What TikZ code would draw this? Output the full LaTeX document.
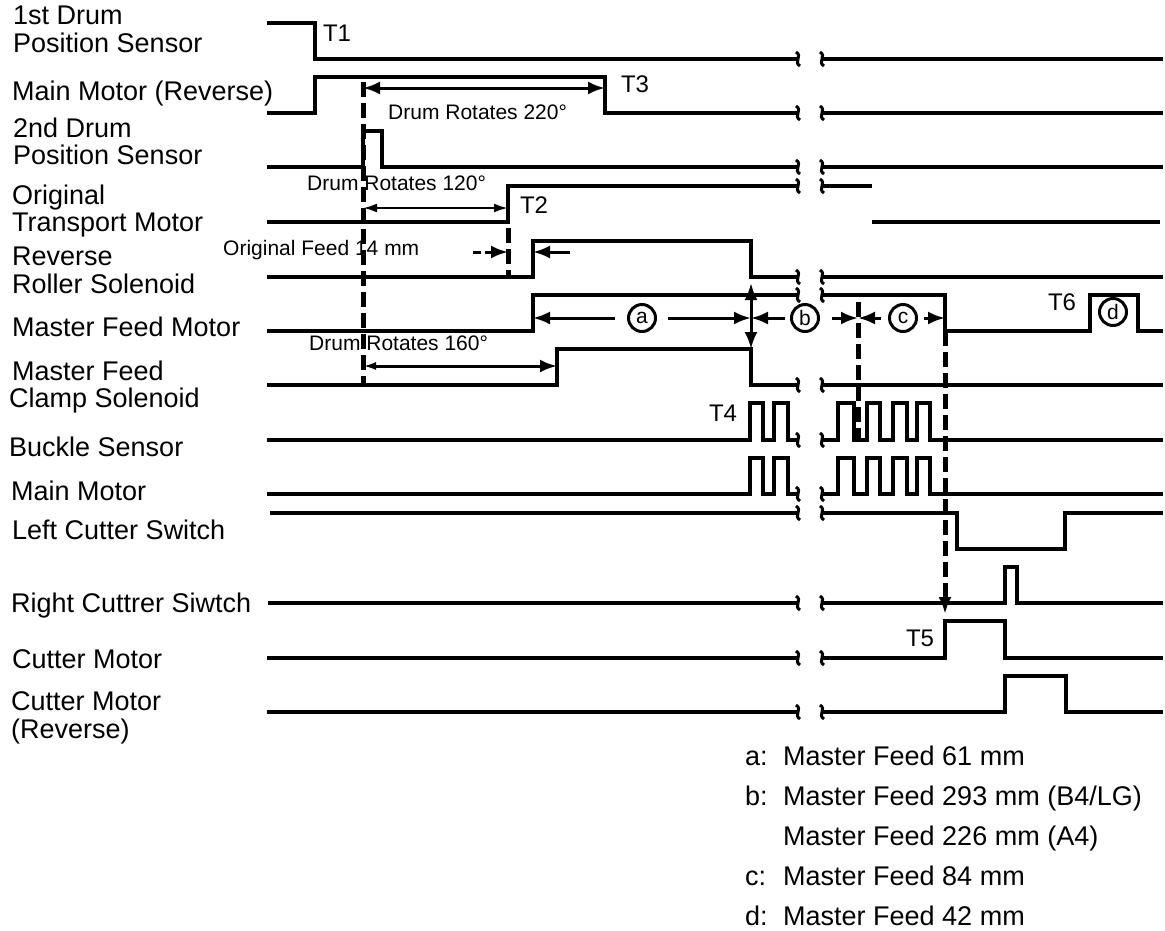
\documentclass[tikz,border=0pt]{standalone}
\usepackage{fontspec}
\setmainfont{Liberation Sans}
\usetikzlibrary{arrows.meta}
\begin{document}
\begin{tikzpicture}[x=1pt,y=-1pt,
  sig/.style={line width=4pt, line join=miter},
  dsh/.style={line width=5pt, dash pattern=on 15pt off 6pt},
  dimline/.style={line width=3pt},
  tipR/.style={-{Latex[length=17pt,width=13pt]}},
  tipLR/.style={{Latex[length=17pt,width=13pt]}-{Latex[length=17pt,width=13pt]}},
  lbl/.style={anchor=west, inner sep=0pt, text height=19pt, text depth=0pt, font=\fontsize{27}{32}\selectfont},
  tlbl/.style={inner sep=0pt, text height=17pt, text depth=0pt, font=\fontsize{24}{28}\selectfont},
  small/.style={anchor=west, inner sep=0pt, text height=15pt, text depth=0pt, font=\fontsize{21}{25}\selectfont},
  circ/.style={circle, draw, line width=3pt, minimum size=27pt, inner sep=0pt, font=\fontsize{21}{23}\selectfont},
  brk/.pic={\draw[line width=3pt] (-2,-7) .. controls (5,-3) and (-5,3) .. (2,7);}
]
\useasboundingbox (0,0) rectangle (1165,930);

% ---------- left labels ----------
\node[lbl] (l1a) at (13,15) {1st Drum};
\node[lbl] (l1b) at (13,43) {Position Sensor};
\node[lbl] (l2) at (12,91) {Main Motor (Reverse)};
\node[lbl] (l3a) at (13,128) {2nd Drum};
\node[lbl] (l3b) at (13,155) {Position Sensor};
\node[lbl] (l4a) at (12,195) {Original};
\node[lbl] (l4b) at (12,222) {Transport Motor};
\node[lbl] (l5a) at (12,256) {Reverse};
\node[lbl] (l5b) at (12,284) {Roller Solenoid};
\node[lbl] (l6) at (12,327) {Master Feed Motor};
\node[lbl] (l7a) at (12,371) {Master Feed};
\node[lbl] (l7b) at (9,398) {Clamp Solenoid};
\node[lbl] (l8) at (9,447) {Buckle Sensor};
\node[lbl] (l9) at (11,491) {Main Motor};
\node[lbl] (l10) at (12,530) {Left Cutter Switch};
\node[lbl] (l11) at (11,603) {Right Cuttrer Siwtch};
\node[lbl] (l12) at (12,659) {Cutter Motor};
\node[lbl] (l13a) at (11,701) {Cutter Motor};
\node[lbl] (l13b) at (11,729) {(Reverse)};

% ---------- signals ----------
% 1st drum position sensor
\draw[sig] (267,23) -- (315,23) -- (315,59) -- (798,59);
\draw[sig] (822,59) -- (1163,59);
% main motor reverse
\draw[sig] (267,113) -- (315,113) -- (315,77) -- (605,77) -- (605,113) -- (798,113);
\draw[sig] (822,113) -- (1163,113);
% 2nd drum position sensor
\draw[sig] (267,167) -- (363,167) -- (363,131) -- (382,131) -- (382,167) -- (798,167);
\draw[sig] (822,167) -- (1163,167);
% original transport motor
\draw[sig] (267,222) -- (508,222) -- (508,186) -- (798,186);
\draw[sig] (822,186) -- (872,186);
\draw[sig] (872,222) -- (1160,222);
% reverse roller solenoid
\draw[sig] (267,277) -- (533,277) -- (533,241) -- (751,241) -- (751,277) -- (798,277);
\draw[sig] (822,277) -- (1163,277);
% master feed motor
\draw[sig] (267,331) -- (533,331) -- (533,295) -- (798,295);
\draw[sig] (822,295) -- (945,295) -- (945,331) -- (1090,331) -- (1090,295) -- (1138,295) -- (1138,331) -- (1163,331);
% master feed clamp solenoid
\draw[sig] (267,385) -- (557,385) -- (557,349) -- (751,349) -- (751,385) -- (798,385);
\draw[sig] (822,385) -- (1163,385);
% buckle sensor
\draw[sig] (267,440) -- (750,440) -- (750,403) -- (763,403) -- (763,440) -- (774,440) -- (774,403) -- (788,403) -- (788,440) -- (798,440);
\draw[sig] (822,440) -- (838,440) -- (838,403) -- (854,403) -- (854,440) -- (867,440) -- (867,403) -- (880,403) -- (880,440) -- (893,440) -- (893,403) -- (907,403) -- (907,440) -- (917,440) -- (917,403) -- (930,403) -- (930,440) -- (1163,440);
% main motor
\draw[sig] (267,494) -- (750,494) -- (750,458) -- (763,458) -- (763,494) -- (774,494) -- (774,458) -- (788,458) -- (788,494) -- (798,494);
\draw[sig] (822,494) -- (838,494) -- (838,458) -- (854,458) -- (854,494) -- (867,494) -- (867,458) -- (880,458) -- (880,494) -- (893,494) -- (893,458) -- (907,458) -- (907,494) -- (917,494) -- (917,458) -- (930,458) -- (930,494) -- (1163,494);
% left cutter switch
\draw[sig] (270,513) -- (798,513);
\draw[sig] (822,513) -- (957,513) -- (957,549) -- (1065,549) -- (1065,513) -- (1163,513);
% right cutter switch
\draw[sig] (268,603) -- (798,603);
\draw[sig] (822,603) -- (1005,603) -- (1005,567) -- (1017,567) -- (1017,603) -- (1163,603);
% cutter motor
\draw[sig] (267,658) -- (798,658);
\draw[sig] (822,658) -- (945,658) -- (945,621) -- (1005,621) -- (1005,658) -- (1163,658);
% cutter motor reverse
\draw[sig] (267,712) -- (798,712);
\draw[sig] (822,712) -- (1005,712) -- (1005,676) -- (1066,676) -- (1066,712) -- (1163,712);

% ---------- break marks ----------
\foreach \yy in {59,113,167,186,277,295,385,440,494,513,603,658,712}{
  \pic at (798,\yy) {brk};
  \pic at (822,\yy) {brk};
}

% ---------- dashed guides ----------
\coordinate (g1t) at (363,82);  \coordinate (g1b) at (363,385);
\coordinate (g2t) at (508,228); \coordinate (g2b) at (508,277);
\coordinate (g3t) at (858,302); \coordinate (g3b) at (858,440);
\coordinate (g4t) at (945,331); \coordinate (g4b) at (945,614);
\draw[dsh] (g1t) -- (g1b);
\draw[dsh] (g2t) -- (g2b);
\draw[dsh] (g3t) -- (g3b);
\draw[dsh, -{Latex[length=17pt,width=13pt]}] (g4t) -- (g4b);

% ---------- dimension arrows ----------
\coordinate (d220a) at (363,88);  \coordinate (d220b) at (605,88);
\draw[dimline, tipLR] (d220a) -- (d220b);
\coordinate (d120a) at (363,208); \coordinate (d120b) at (508,208);
\draw[line width=2.4pt, {Latex[length=14pt,width=9pt]}-{Latex[length=14pt,width=9pt]}] (d120a) -- (d120b);
\coordinate (d160a) at (363,366); \coordinate (d160b) at (557,366);
\draw[dimline, {Latex[length=13pt,width=8pt]}-{Latex[length=17pt,width=13pt]}] (d160a) -- (d160b);
\coordinate (f14a) at (473,252); \coordinate (f14b) at (508,252);
\draw[dimline, dash pattern=on 8pt off 4pt, tipR] (f14a) -- (f14b);
\coordinate (f14c) at (570,252); \coordinate (f14d) at (533,252);
\draw[dimline, tipR] (f14c) -- (f14d);

% circled letters
\node[circ] (ca) at (642,318) {a};
\node[circ] (cb) at (805,318) {b};
\node[circ] (cc) at (903,318) {c};
\node[circ] (cd) at (1113,312) {d};
\coordinate (xa1) at (533,318); \coordinate (xa2) at (751,318);
\coordinate (xb2) at (858,318); \coordinate (xc2) at (945,318);
\draw[dimline, tipR] ([xshift=-12pt]ca.west) -- (xa1);
\draw[dimline, tipR] ([xshift=11pt]ca.east) -- (xa2);
\draw[dimline, tipR] ([xshift=-5pt]cb.west) -- (xa2);
\draw[dimline, tipR] ([xshift=12pt]cb.east) -- (xb2);
\draw[dimline, tipR] ([xshift=-7pt]cc.west) -- (xb2);
\draw[dimline, tipR] ([xshift=6pt]cc.east) -- (xc2);
\coordinate (va) at (751,283); \coordinate (vb) at (751,349);
\draw[dimline, tipLR] (va) -- (vb);

% ---------- T labels ----------
\node[tlbl] (t1) at (337,33) {T1};
\node[tlbl] (t2) at (534,205) {T2};
\node[tlbl] (t3) at (635,84) {T3};
\node[tlbl] (t4) at (723,413) {T4};
\node[tlbl] (t5) at (920,638) {T5};
\node[tlbl] (t6) at (1062,302) {T6};

% ---------- small annotations ----------
\node[small] (s220) at (388,112) {Drum Rotates 220°};
\node[small] (s120) at (307,183) {Drum Rotates 120°};
\node[small] (s14) at (223,248) {Original Feed 14 mm};
\node[small] (s160) at (309,343) {Drum Rotates 160°};

% ---------- legend ----------
\node[lbl] (ka) at (745,756) {a:};
\node[lbl] (ta) at (783,756) {Master Feed 61 mm};
\node[lbl] (kb) at (745,796) {b:};
\node[lbl] (tb) at (783,796) {Master Feed 293 mm (B4/LG)};
\node[lbl] (tb2) at (783,836) {Master Feed 226 mm (A4)};
\node[lbl] (kc) at (745,876) {c:};
\node[lbl] (tc) at (783,876) {Master Feed 84 mm};
\node[lbl] (kd) at (745,916) {d:};
\node[lbl] (td) at (783,916) {Master Feed 42 mm};
\end{tikzpicture}
\end{document}
